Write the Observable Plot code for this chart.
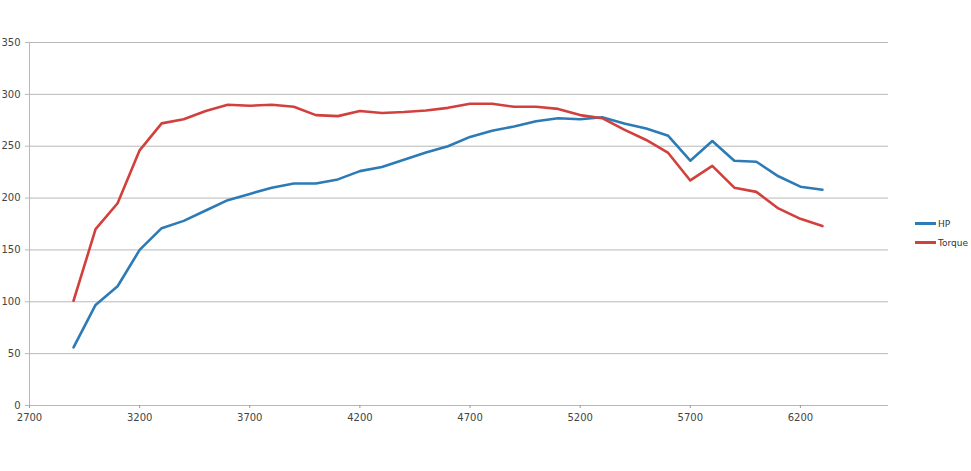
<!DOCTYPE html>
<html>
<head>
<meta charset="utf-8">
<script src="https://cdn.jsdelivr.net/npm/d3@7"></script>
<script src="https://cdn.jsdelivr.net/npm/@observablehq/plot@0.6"></script>
<style>
  html, body { margin: 0; padding: 0; background: #fff; }
  #wrap { position: relative; width: 971px; height: 471px; }
  #legend { position: absolute; left: 915px; top: 214px; font: 9px "DejaVu Sans", sans-serif; color: #333; }
  #legend .item { display: flex; align-items: center; height: 19px; }
  #legend .sw { width: 21px; height: 2.5px; margin-right: 2px; }
</style>
</head>
<body>
<div id="wrap"><div id="legend"></div></div>
<script>
const rpm = [2900,3000,3100,3200,3300,3400,3500,3600,3700,3800,3900,4000,4100,4200,4300,4400,4500,4600,4700,4800,4900,5000,5100,5200,5300,5400,5500,5600,5700,5800,5900,6000,6100,6200,6300];
const hp = [56,97,115,150,171,178,188,198,204,210,214,214,218,226,230,237,244,250,259,265,269,274,277,276,278,272,267,260,236,255,236,235,221,211,208];
const torque = [101,170,195,246,272,276,284,290,289,290,288,280,279,284,282,283,284.5,287,291,291,288,288,286,280,277,266,256,243.5,217,231,210,206,190,180,173];
const xTicks = [2700,3200,3700,4200,4700,5200,5700,6200];
const yTicks = [0,50,100,150,200,250,300,350];
const series = [
  {name: "HP", values: hp, color: "#2c7bb6"},
  {name: "Torque", values: torque, color: "#d2403e"}
];

const data = series.flatMap(s => rpm.map((r, i) => ({rpm: r, value: s.values[i], series: s.name})));

const chart = Plot.plot({
  width: 971,
  height: 471,
  marginLeft: 29,
  marginRight: 83,
  marginTop: 42,
  marginBottom: 66,
  style: {fontFamily: "DejaVu Sans, sans-serif", fontSize: "10px", color: "#444", background: "#fff"},
  x: {type: "linear", domain: [2700, 6600], label: null},
  y: {type: "linear", domain: [0, 350], label: null},
  color: {domain: series.map(s => s.name), range: series.map(s => s.color)},
  marks: [
    Plot.gridY(yTicks, {stroke: "#b8b8b8", strokeOpacity: 1, strokeWidth: 1}),
    Plot.ruleX([2700], {stroke: "#b8b8b8", strokeWidth: 1}),
    Plot.axisX({ticks: xTicks, tickFormat: d => String(d), tickSize: 3, tickPadding: 5, stroke: "#999", label: null}),
    Plot.axisY({ticks: yTicks, tickSize: 4, tickPadding: 5, stroke: "#b8b8b8", label: null}),
    Plot.line(data, {x: "rpm", y: "value", z: "series", stroke: "series", strokeWidth: 2.6, strokeLinejoin: "round"})
  ]
});
document.getElementById("wrap").prepend(chart);

const legend = document.getElementById("legend");
for (const s of series) {
  const it = document.createElement("div");
  it.className = "item";
  it.innerHTML = `<span class="sw" style="background:${s.color}"></span><span>${s.name}</span>`;
  legend.appendChild(it);
}
</script>
</body>
</html>
